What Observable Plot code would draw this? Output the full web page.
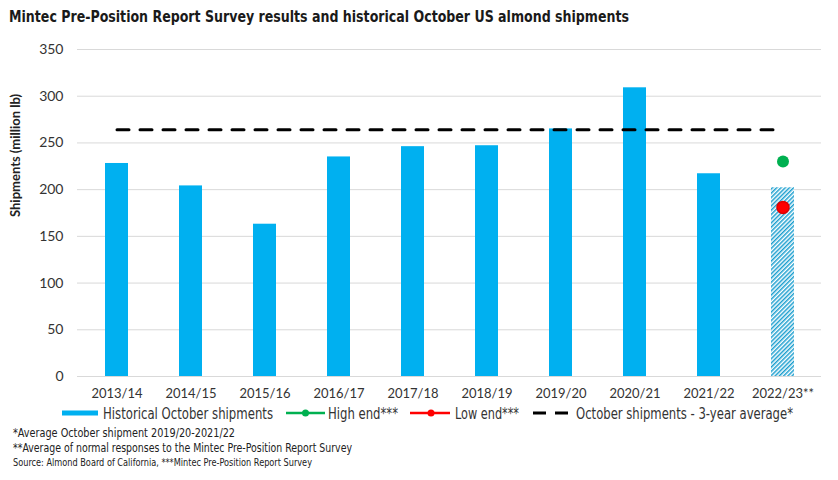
<!DOCTYPE html>
<html><head><meta charset="utf-8">
<script src="https://cdn.jsdelivr.net/npm/d3@7"></script>
<script src="https://cdn.jsdelivr.net/npm/@observablehq/plot@0.6"></script>
<style>
body{margin:0;background:#fff;}
#wrap{position:relative;width:838px;height:480px;overflow:hidden;background:#fff;}
#title{position:absolute;left:0;top:0;}
#chart{position:absolute;left:0;top:30px;}
#foot{position:absolute;left:0;top:400px;}
.cond{font-family:"Liberation Sans Narrow","DejaVu Sans Condensed",Roboto,sans-serif;}
</style></head><body>
<div id="wrap">
<svg id="title" width="838" height="30"></svg>
<div id="chart"></div>
<svg id="foot" width="838" height="80"></svg>
</div>
<script>
// ---- data ----
const seasons = ["2013/14","2014/15","2015/16","2016/17","2017/18","2018/19","2019/20","2020/21","2021/22","2022/23**"];
const historicalShipments = [228, 204, 163, 235, 246, 247, 265, 309, 217];
const forecastSeason = "2022/23**";
const forecastAverage = 202;
const highEnd = 230;
const lowEnd = 181;
const threeYearAverage = 264;
const yTicks = [0, 50, 100, 150, 200, 250, 300, 350];
const titleText = "Mintec Pre-Position Report Survey results and historical October US almond shipments";
const yLabel = "Shipments (million lb)";
const legendLabels = ["Historical October shipments", "High end***", "Low end***", "October shipments - 3-year average*"];
const footnotes = ["*Average October shipment 2019/20-2021/22",
  "**Average of normal responses to the Mintec Pre-Position Report Survey",
  "Source: Almond Board of California, ***Mintec Pre-Position Report Survey"];

// ---- chart ----
const hist = historicalShipments.map((v, i) => ({season: seasons[i], value: v}));
const avgLine = seasons.map(s => ({season: s, value: threeYearAverage}));

const chart = Plot.plot({
  width: 838, height: 370,
  marginTop: 19, marginBottom: 24, marginLeft: 77, marginRight: 17,
  style: {fontFamily: "Lato, sans-serif", color: "#333", background: "transparent"},
  x: {domain: seasons, paddingInner: 0.69, paddingOuter: 0.345},
  y: {domain: [0, 350]},
  marks: [
    Plot.gridY(yTicks, {stroke: "#d9d9d9", strokeOpacity: 1}),
    Plot.axisY(yTicks, {tickSize: 0, tickPadding: 14, fontSize: 14, label: null}),
    Plot.axisX({tickSize: 0, tickPadding: 12, fontSize: 13, label: null}),
    Plot.barY(hist, {x: "season", y: "value", fill: "#00b0f0"}),
    Plot.barY([{season: forecastSeason, value: forecastAverage}], {x: "season", y: "value", fill: "url(#hatch)"}),
    Plot.line(avgLine, {x: "season", y: "value", stroke: "#000", strokeWidth: 3, strokeDasharray: "12,11"}),
    Plot.dot([{season: forecastSeason, value: highEnd}], {x: "season", y: "value", fill: "#00b050", r: 6}),
    Plot.dot([{season: forecastSeason, value: lowEnd}], {x: "season", y: "value", fill: "#ff0000", stroke: "#e00000", r: 6}),
    Plot.text([yLabel], {frameAnchor: "left", rotate: -90, dx: -62, dy: 4, fontWeight: "bold", fontSize: 13, fill: "#222"})
  ]
});
d3.select(chart).insert("defs", ":first-child").html(
  `<pattern id="hatch" patternUnits="userSpaceOnUse" width="3" height="3" patternTransform="rotate(45)">
     <rect width="3" height="3" fill="#ffffff"/>
     <line x1="0.75" y1="0" x2="0.75" y2="3" stroke="#1c9fcf" stroke-width="1.5"/>
   </pattern>`);
document.getElementById("chart").appendChild(chart);

// ---- title ----
d3.select("#title").append("text").attr("class", "cond")
  .attr("x", 9).attr("y", 21.5).attr("font-size", 16).attr("font-weight", "bold")
  .attr("fill", "#1a1a1a").attr("textLength", 620).attr("lengthAdjust", "spacingAndGlyphs")
  .text(titleText);

// ---- legend & footnotes ----
const foot = d3.select("#foot");
const ly = 13;
foot.append("rect").attr("x", 62).attr("y", ly - 2.5).attr("width", 36).attr("height", 5).attr("fill", "#00b0f0");
foot.append("line").attr("x1", 286).attr("x2", 325).attr("y1", ly).attr("y2", ly).attr("stroke", "#00b050").attr("stroke-width", 2.5);
foot.append("circle").attr("cx", 305.5).attr("cy", ly).attr("r", 3.5).attr("fill", "#00b050");
foot.append("line").attr("x1", 410).attr("x2", 450).attr("y1", ly).attr("y2", ly).attr("stroke", "#ff0000").attr("stroke-width", 2.5);
foot.append("circle").attr("cx", 431).attr("cy", ly).attr("r", 3.5).attr("fill", "#ff0000");
foot.append("line").attr("x1", 533).attr("x2", 568).attr("y1", ly).attr("y2", ly).attr("stroke", "#000").attr("stroke-width", 3).attr("stroke-dasharray", "13,9");
const legendPos = [[103, 170], [328, 70], [455, 64], [576, 217]];
legendLabels.forEach((t, i) => {
  foot.append("text").attr("class", "cond").attr("x", legendPos[i][0]).attr("y", ly + 5.5)
    .attr("font-size", 15).attr("fill", "#333")
    .attr("textLength", legendPos[i][1]).attr("lengthAdjust", "spacingAndGlyphs").text(t);
});
const footPos = [[37, 13, 222], [52, 13, 339], [66, 11, 299]];
footnotes.forEach((t, i) => {
  foot.append("text").attr("class", "cond").attr("x", 13).attr("y", footPos[i][0])
    .attr("font-size", footPos[i][1]).attr("fill", "#222")
    .attr("textLength", footPos[i][2]).attr("lengthAdjust", "spacingAndGlyphs").text(t);
});
</script>
</body></html>
